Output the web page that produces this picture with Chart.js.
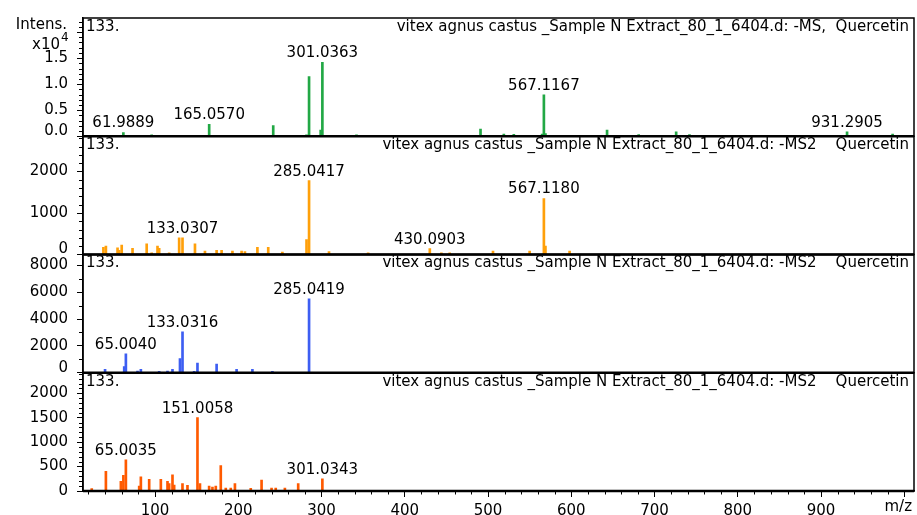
<!DOCTYPE html>
<html>
<head>
<meta charset="utf-8">
<title>Quercetin MS / MS2 spectra</title>
<style>
  html, body { margin: 0; padding: 0; background: #fff; }
</style>
</head>
<body>
<canvas id="chart" width="917" height="515"></canvas>

<script src="https://cdn.jsdelivr.net/npm/chart.js"></script>
<script>
// peaks (m/z, intensity in counts)
const ms1Mz  = [61.9889, 88, 96, 136, 147, 165.0570, 242, 282, 285.04, 299, 301.0363, 342, 491, 519, 531, 565, 567.1167, 569, 643, 681, 726, 742, 931.2905, 986];
const ms1Int = [700, 200, 250, 200, 200, 2300, 2050, 250, 11450, 1200, 14200, 250, 1400, 400, 350, 400, 7950, 500, 1200, 300, 850, 300, 850, 400];

const ms2aMz  = [38, 41, 55, 57, 60, 73, 90, 96, 103, 105, 117, 129, 133.0307, 148, 160, 174, 180, 193, 204, 208, 223, 236, 253, 282, 285.0417, 309, 356, 430.0903, 444, 454, 506, 550, 567.1180, 569, 598];
const ms2aInt = [170, 200, 160, 100, 230, 150, 260, 40, 200, 150, 40, 400, 400, 260, 80, 100, 100, 80, 80, 70, 170, 170, 60, 360, 1780, 70, 40, 140, 40, 40, 80, 80, 1350, 200, 80];

const ms2bMz  = [40, 63, 65.0040, 79, 83, 105, 115, 121, 130, 133.0316, 147, 151, 174, 198, 217, 241, 285.0419];
const ms2bInt = [250, 450, 1400, 125, 250, 100, 125, 250, 1050, 3050, 100, 725, 650, 250, 250, 100, 5500];

const ms2cMz  = [24, 41, 59, 62, 65.0035, 81, 83, 93, 107, 115, 117, 121, 123, 133, 139, 151.0058, 154, 165, 169, 173, 179, 185, 191, 196, 215, 228, 240, 245, 256, 272, 301.0343];
const ms2cInt = [50, 400, 200, 320, 640, 100, 290, 240, 240, 200, 150, 330, 120, 150, 115, 1500, 150, 100, 80, 100, 520, 60, 60, 150, 55, 225, 60, 60, 60, 150, 250];

// annotated peaks
const ms1Labels  = [61.9889, 165.0570, 301.0363, 567.1167, 931.2905];
const ms2aLabels = [133.0307, 285.0417, 430.0903, 567.1180];
const ms2bLabels = [65.0040, 133.0316, 285.0419];
const ms2cLabels = [65.0035, 151.0058, 301.0343];

const scanTitles = [
  'vitex agnus castus _Sample N Extract_80_1_6404.d: -MS,  Quercetin',
  'vitex agnus castus _Sample N Extract_80_1_6404.d: -MS2    Quercetin',
  'vitex agnus castus _Sample N Extract_80_1_6404.d: -MS2    Quercetin',
  'vitex agnus castus _Sample N Extract_80_1_6404.d: -MS2    Quercetin'
];

// axis ranges / ticks per panel
const panelMax   = [22700, 2850, 8800, 2420];
const panelStep  = [5000, 1000, 2000, 500];
const panelMinor = [1000, 200, 1000, 100];
const panelTopLabel = [15000, 2000, 8000, 2000];
const panelColors = ['#22a845', '#ffa00a', '#3d5ef2', '#ff5a00'];
const mzTicks = [100, 200, 300, 400, 500, 600, 700, 800, 900, 1000];

const spectra = [
  { mz: ms1Mz, int: ms1Int, labels: ms1Labels },
  { mz: ms2aMz, int: ms2aInt, labels: ms2aLabels },
  { mz: ms2bMz, int: ms2bInt, labels: ms2bLabels },
  { mz: ms2cMz, int: ms2cInt, labels: ms2cLabels }
];
const panelIds = ['y1', 'y2', 'y3', 'y4'];

const FONT = 'DejaVu Sans';
Chart.defaults.font.family = FONT;
Chart.defaults.color = '#000';

function fmtIntens(i, v) {
  return i === 0 ? (v / 10000).toFixed(1) : String(v);
}

function yScale(i) {
  return {
    type: 'linear',
    position: 'left',
    stack: 'spectra',
    stackWeight: 1,
    weight: 4 - i,
    min: 0,
    max: panelMax[i],
    afterFit: s => { s.width = 83; },
    afterBuildTicks: s => {
      const t = [];
      for (let v = 0; v <= panelMax[i]; v += panelStep[i]) t.push({ value: v });
      s.ticks = t;
    },
    border: { display: true, color: '#000', width: 1.5 },
    grid: { drawOnChartArea: false, drawTicks: true, tickLength: 6, color: '#000', lineWidth: 1 },
    ticks: {
      autoSkip: false,
      padding: 9,
      color: '#000',
      font: { family: FONT, size: 15 },
      // the zero label of the upper panels is drawn a bit higher by the plugin
      callback: v => (v > panelTopLabel[i] || (v === 0 && i < 3)) ? '' : fmtIntens(i, v)
    }
  };
}

// frames, minor ticks, scan titles and peak annotations
const spectrumDecor = {
  id: 'spectrumDecor',
  afterDraw(chart) {
    const ctx = chart.ctx, area = chart.chartArea, xs = chart.scales.x;
    ctx.save();
    ctx.strokeStyle = '#000';
    ctx.fillStyle = '#000';
    ctx.lineWidth = 1;

    for (let v = 20; v <= 1000; v += 20) {
      if (v % 100 === 0) continue;
      const px = Math.round(xs.getPixelForValue(v)) + 0.5;
      ctx.beginPath(); ctx.moveTo(px, area.bottom); ctx.lineTo(px, area.bottom + 3.5); ctx.stroke();
    }

    panelIds.forEach((id, i) => {
      const ys = chart.scales[id];
      ctx.lineWidth = 1;
      for (let v = panelMinor[i]; v < panelMax[i]; v += panelMinor[i]) {
        if (v % panelStep[i] === 0) continue;
        const py = Math.round(ys.getPixelForValue(v)) + 0.5;
        ctx.beginPath(); ctx.moveTo(area.left - 4, py); ctx.lineTo(area.left, py); ctx.stroke();
      }
      ctx.lineWidth = 1.5;
      ctx.strokeRect(area.left, ys.top, area.right - area.left, ys.bottom - ys.top);
      ctx.lineWidth = 2.5;
      ctx.beginPath(); ctx.moveTo(area.left, ys.bottom); ctx.lineTo(area.right, ys.bottom); ctx.stroke();

      ctx.font = '15px "' + FONT + '"';
      ctx.textBaseline = 'middle';
      if (i < 3) {
        ctx.textAlign = 'right';
        ctx.fillText(fmtIntens(i, 0), area.left - 15, ys.getPixelForValue(0) - 5);
      }
      ctx.textAlign = 'left';
      ctx.fillText('133.', area.left + 3, ys.top + 9);
      ctx.textAlign = 'right';
      ctx.fillText(scanTitles[i], area.right - 5, ys.top + 9);

      ctx.textAlign = 'center';
      const sp = spectra[i];
      sp.labels.forEach(m => {
        let k = 0;
        sp.mz.forEach((z, j) => { if (Math.abs(z - m) < Math.abs(sp.mz[k] - m)) k = j; });
        const px = xs.getPixelForValue(sp.mz[k]);
        const py = ys.getPixelForValue(sp.int[k]);
        ctx.fillText(m.toFixed(4), px, py - 9);
      });
    });

    ctx.font = '15px "' + FONT + '"';
    ctx.textAlign = 'right';
    ctx.textBaseline = 'middle';
    ctx.fillText('Intens.', area.left - 16, area.top + 7);
    ctx.fillText('x10', area.left - 23, area.top + 27);
    ctx.font = '12px "' + FONT + '"';
    ctx.textAlign = 'left';
    ctx.fillText('4', area.left - 22, area.top + 20);

    ctx.font = '15px "' + FONT + '"';
    ctx.textAlign = 'right';
    ctx.textBaseline = 'top';
    ctx.fillText('m/z', area.right - 2, area.bottom + 9);
    ctx.restore();
  }
};

const scales = {
  x: {
    type: 'linear',
    min: 13.5,
    max: 1011.7,
    offset: false,
    afterFit: s => { s.height = 24; },
    afterBuildTicks: s => { s.ticks = mzTicks.map(v => ({ value: v })); },
    border: { display: true, color: '#000', width: 1.5 },
    grid: { drawOnChartArea: false, offset: false, tickLength: 6, color: '#000', lineWidth: 1 },
    ticks: {
      autoSkip: false,
      maxRotation: 0,
      padding: 5,
      color: '#000',
      font: { family: FONT, size: 15 },
      callback: v => v >= 1000 ? '' : v
    }
  }
};
panelIds.forEach((id, i) => { scales[id] = yScale(i); });

new Chart(document.getElementById('chart'), {
  type: 'bar',
  data: {
    datasets: spectra.map((s, i) => ({
      label: scanTitles[i],
      yAxisID: panelIds[i],
      data: s.mz.map((m, k) => ({ x: m, y: s.int[k] })),
      backgroundColor: panelColors[i],
      borderWidth: 0,
      barThickness: 2,
      grouped: false
    }))
  },
  options: {
    responsive: false,
    animation: false,
    layout: { padding: { top: 13, right: 3, left: 0, bottom: 0 } },
    plugins: { legend: { display: false }, tooltip: { enabled: false } },
    scales: scales
  },
  plugins: [spectrumDecor]
});
</script>
</body>
</html>
